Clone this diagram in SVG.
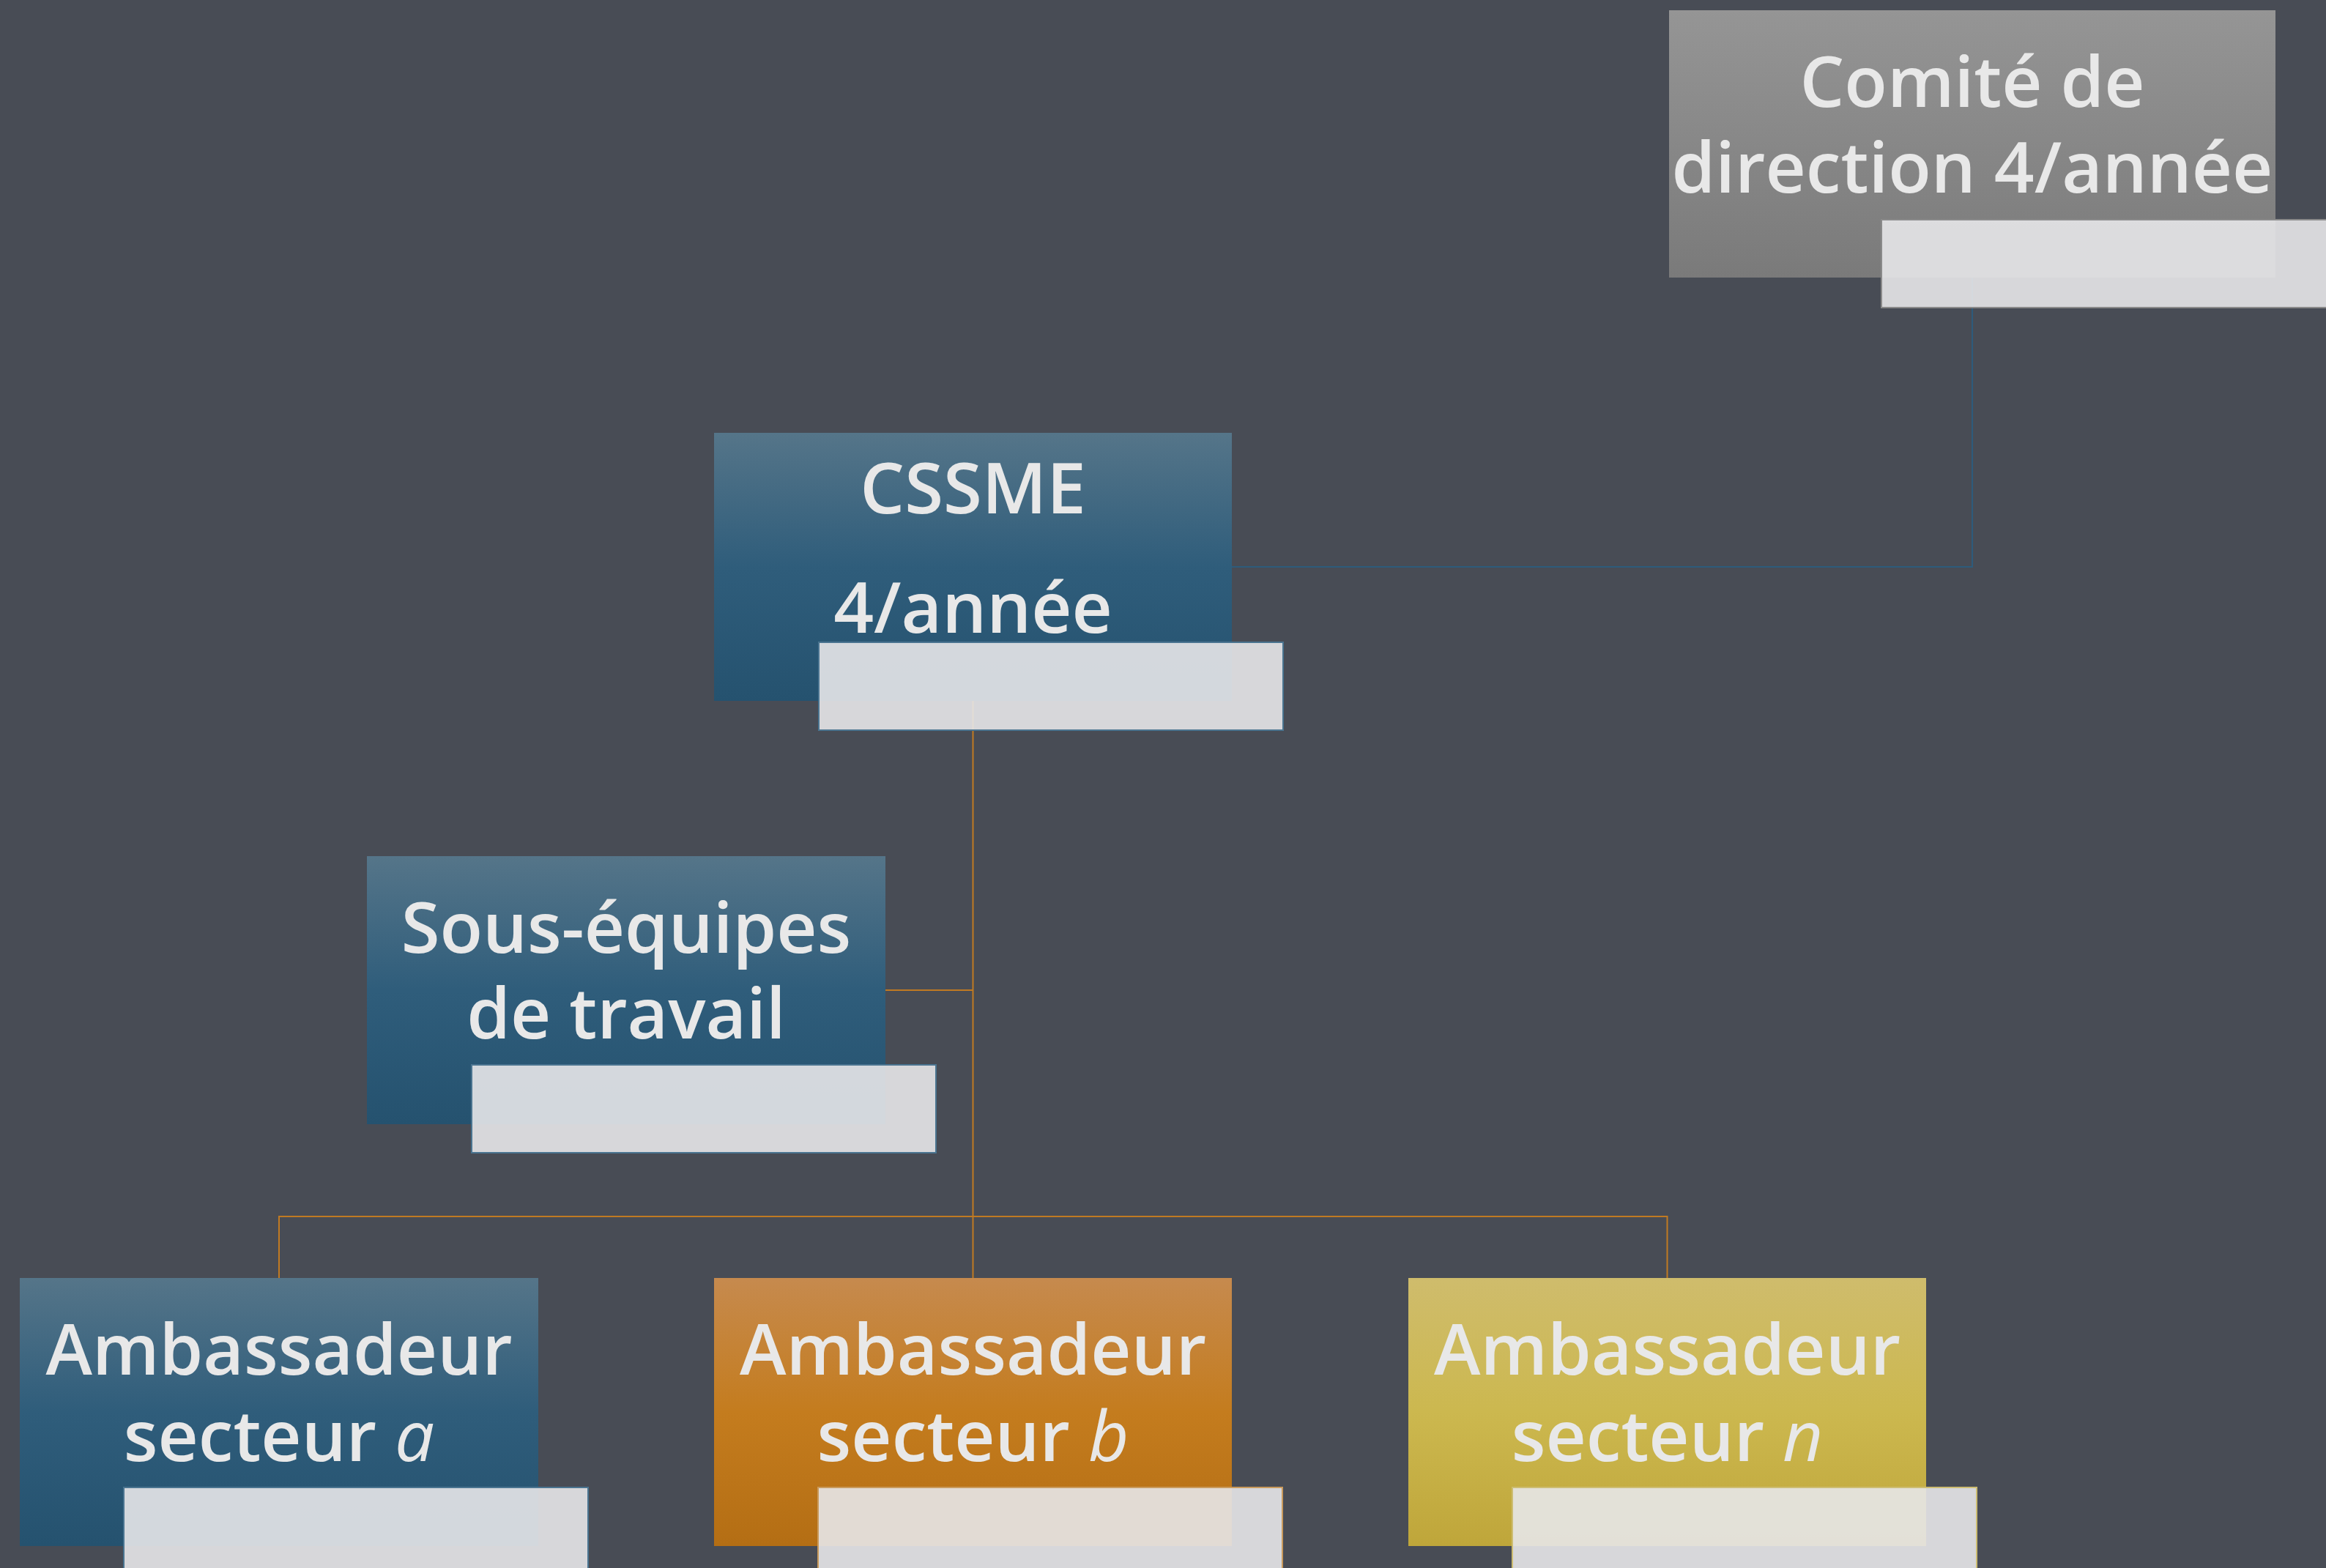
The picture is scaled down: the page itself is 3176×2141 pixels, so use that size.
<svg xmlns="http://www.w3.org/2000/svg" width="3176" height="2141" viewBox="0 0 3176 2141">
<defs>
<linearGradient id="gBlue" x1="0" y1="0" x2="0" y2="1">
<stop offset="0" stop-color="#557589"/><stop offset="0.5" stop-color="#2f5d7b"/><stop offset="1" stop-color="#25526f"/>
</linearGradient>
<linearGradient id="gOrange" x1="0" y1="0" x2="0" y2="1">
<stop offset="0" stop-color="#c68a4e"/><stop offset="0.5" stop-color="#c47c1e"/><stop offset="1" stop-color="#b46e14"/>
</linearGradient>
<linearGradient id="gYellow" x1="0" y1="0" x2="0" y2="1">
<stop offset="0" stop-color="#cfbc6c"/><stop offset="0.5" stop-color="#ccb84f"/><stop offset="1" stop-color="#bfa63a"/>
</linearGradient>
<linearGradient id="gGray" x1="0" y1="0" x2="0" y2="1">
<stop offset="0" stop-color="#959595"/><stop offset="1" stop-color="#7a7a7a"/>
</linearGradient>
<style>
.t{font-family:"Open Sans","Noto Sans","DejaVu Sans",sans-serif;font-size:96px;font-weight:600;fill:#e8e8e8;text-anchor:middle}
.i{font-style:italic;font-weight:400}
.lab{fill:#e7e7e9;fill-opacity:0.9;stroke-width:2}
.co{fill:none;stroke:#c07a22;stroke-width:2}
.cb{fill:none;stroke:#2d5b7b;stroke-width:2}
</style>
</defs>
<rect x="0" y="0" width="3176" height="2141" fill="#484c55"/>
<g id="connectors">
<path class="cb" d="M2693 379 V774 H1682"/>
<path class="co" d="M1328.5 957 V1745"/>
<path class="co" d="M1328.5 1352 H1209"/>
<path class="co" d="M381 1745 V1661 H2276.5 V1745"/>
</g>
<g id="comite">
<rect x="2279" y="14" width="828" height="365" fill="url(#gGray)"/>
<text class="t" x="2693" y="146">Comité de</text>
<text class="t" x="2693" y="263">direction 4/année</text>
<rect class="lab" x="2569" y="300" width="634" height="120" stroke="#8a8a8a"/>
</g>
<g id="cssme">
<rect x="975" y="591" width="707" height="366" fill="url(#gBlue)"/>
<text class="t" x="1328.5" y="701">CSSME</text>
<text class="t" x="1328.5" y="864">4/année</text>
<rect class="lab" x="1118" y="877" width="634" height="120" stroke="#4a7490"/>
</g>
<g id="sous-equipes">
<rect x="501" y="1169" width="708" height="366" fill="url(#gBlue)"/>
<text class="t" x="855" y="1301">Sous-équipes</text>
<text class="t" x="855" y="1418">de travail</text>
<rect class="lab" x="644" y="1454" width="634" height="120" stroke="#4a7490"/>
</g>
<g id="ambassadeur-a">
<rect x="27" y="1745" width="708" height="366" fill="url(#gBlue)"/>
<text class="t" x="381" y="1877">Ambassadeur</text>
<text class="t" x="381" y="1995">secteur <tspan class="i">a</tspan></text>
<rect class="lab" x="169" y="2031" width="634" height="120" stroke="#4a7490"/>
</g>
<g id="ambassadeur-b">
<rect x="975" y="1745" width="707" height="366" fill="url(#gOrange)"/>
<text class="t" x="1328.5" y="1877">Ambassadeur</text>
<text class="t" x="1328.5" y="1995">secteur <tspan class="i">b</tspan></text>
<rect class="lab" x="1117" y="2031" width="634" height="120" stroke="#c99a5c"/>
</g>
<g id="ambassadeur-n">
<rect x="1923" y="1745" width="707" height="366" fill="url(#gYellow)"/>
<text class="t" x="2276.5" y="1877">Ambassadeur</text>
<text class="t" x="2276.5" y="1995">secteur <tspan class="i">n</tspan></text>
<rect class="lab" x="2065" y="2031" width="634" height="120" stroke="#cdbd72"/>
</g>
</svg>
